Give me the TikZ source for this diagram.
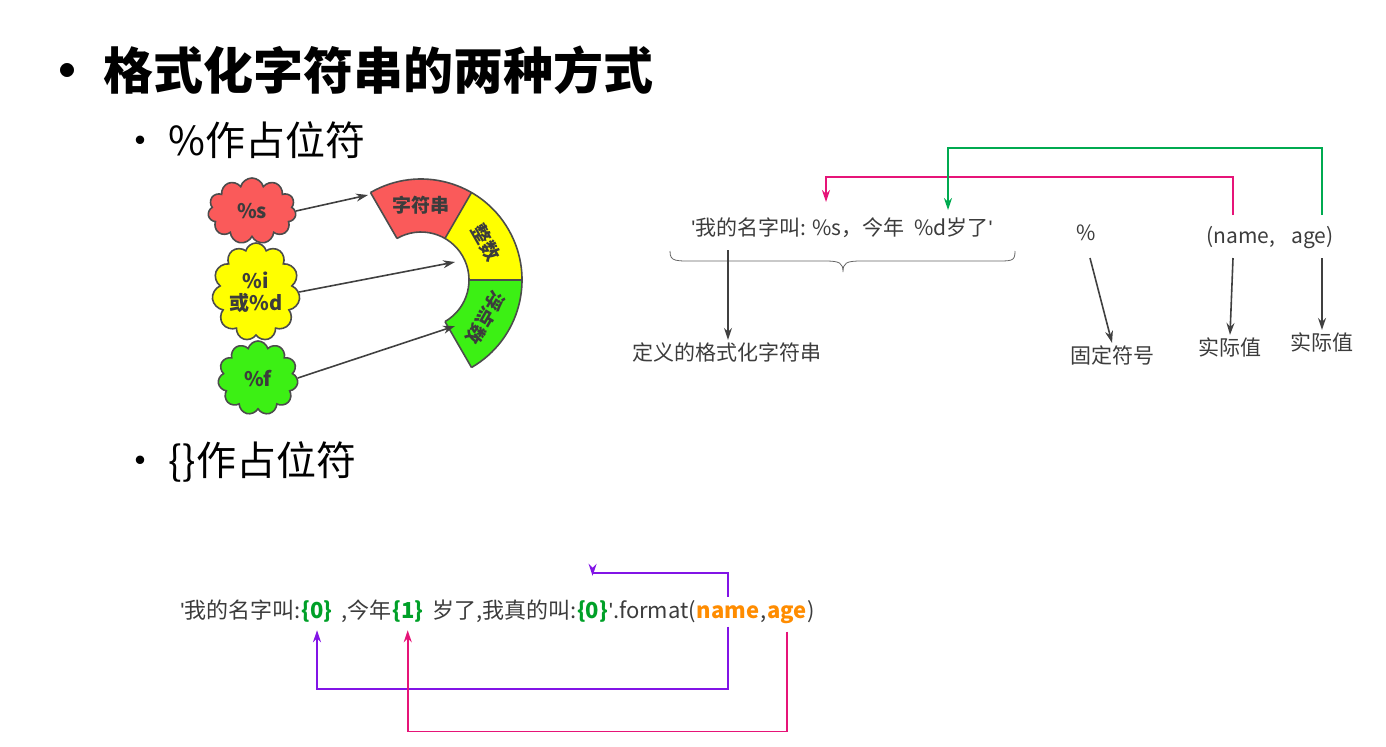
\documentclass[tikz,border=0pt]{standalone}
\usepackage{fontspec}
\setmainfont{Noto Sans CJK SC}
\newfontfamily\lat{Liberation Sans}
\usetikzlibrary{positioning,shapes.symbols,arrows.meta,calc}
\definecolor{cred}{RGB}{250,90,90}
\definecolor{cyel}{RGB}{255,255,0}
\definecolor{cgrn}{RGB}{60,240,20}
\definecolor{cpink}{RGB}{230,20,120}
\definecolor{cgreen}{RGB}{0,170,80}
\definecolor{cpur}{RGB}{130,20,230}
\definecolor{cnum}{RGB}{0,160,40}
\definecolor{corg}{RGB}{255,140,0}
\definecolor{txt}{RGB}{60,60,60}
\newcommand\q{{\lat\char39}}
\tikzset{
  blob/.style={cloud,cloud puffs=11,draw=black!70,thick,minimum width=#1,font=\fontsize{10}{11}\selectfont\bfseries,text=txt,align=center,inner sep=0pt},
  seg/.style={draw=black!70,thick},
  ptr/.style={-{Stealth[length=6pt,width=4pt]},draw=black!75,thick},
  lnk/.style={-{Stealth[length=6pt,width=4pt]},thick},
  lbl/.style={font=\fontsize{10.5}{12}\selectfont,text=txt,inner sep=1pt},
  part/.style={font=\fontsize{11}{12}\selectfont,text=txt,inner sep=0pt,anchor=base west},
  hot/.style={part,font=\fontsize{11}{12}\selectfont\bfseries}
}
\begin{document}
\begin{tikzpicture}[x=0.5pt,y=-0.5pt]
  \useasboundingbox (0,0) rectangle (1386,746);
  %HEADINGS
  \node[anchor=west,font=\fontsize{25}{28}\selectfont\bfseries] (title) at (35,70) {• 格式化字符串的两种方式};
  \node[anchor=west,font=\fontsize{20}{22}\selectfont] (sub1) at (113,140) {• \%作占位符};
  \node[anchor=west,font=\fontsize{20}{22}\selectfont] (sub2) at (113,462) {• \{\}作占位符};

  %ARC
  \def\ri{48}\def\ro{101}
  \begin{scope}[shift={(421,280)},yscale=-1]
  \fill[cred] (120:\ro) arc[start angle=120,end angle=60,radius=\ro] -- (60:\ri) arc[start angle=60,end angle=120,radius=\ri] -- cycle;
  \fill[cyel] (60:\ro) arc[start angle=60,end angle=0,radius=\ro] -- (0:\ri) arc[start angle=0,end angle=60,radius=\ri] -- cycle;
  \fill[cgrn] (0:\ro) arc[start angle=0,end angle=-60,radius=\ro] -- (-60:\ri) arc[start angle=-60,end angle=0,radius=\ri] -- cycle;
  \foreach \a in {120,60,0,-60} \draw[seg] (\a:\ri) -- (\a:\ro);
  \draw[seg] (120:\ro) arc[start angle=120,end angle=-60,radius=\ro];
  \draw[seg] (120:\ri) arc[start angle=120,end angle=-60,radius=\ri];
  \node[font=\fontsize{9.5}{11}\selectfont\bfseries,text=txt] (str) at (90:75) {字符串};
  \node[font=\fontsize{9.5}{11}\selectfont\bfseries,text=txt,rotate=-60] (int) at (30:75) {整数};
  \node[font=\fontsize{9.5}{11}\selectfont\bfseries,text=txt,rotate=-120] (flt) at (-30:75) {浮点数};
  \end{scope}

  %CLOUDS
  \node[blob=44pt,fill=cred,minimum height=33pt] (cs) at (252,211) {\%s};
  \node[blob=40pt,fill=cyel,minimum height=49pt] (cd) at (256,292) {\%i\\或\%d};
  \node[blob=40pt,fill=cgrn,minimum height=37pt] (cf) at (258,378) {\%f};
  \coordinate (ts) at (368,195);
  \coordinate (td) at (455,262);
  \coordinate (tf) at (455,326);
  \draw[ptr] (cs.east) -- (ts);
  \draw[ptr] (cd.east) -- (td);
  \draw[ptr] (cf.east) -- (tf);

  %PERCENT STYLE
  \node[lbl] (fmt) at (842,228) {\q 我的名字叫: \%s，今年 \ \%d岁了\q};
  \draw[draw=black!60] (670,251) .. controls (670,262) and (675,261) .. (700,261) -- (825,261) .. controls (840,261) and (843,263) .. (843,272) .. controls (843,263) and (846,261) .. (861,261) -- (990,261) .. controls (1012,261) and (1015,262) .. (1015,251);
  \node[lbl] (def) at (727,352) {定义的格式化字符串};
  \coordinate (fmtb) at (728,250);
  \draw[ptr] (fmtb) -- (def.north -| fmtb);
  \node[lbl] (pct) at (1086,233) {\%};
  \node[lbl] (fix) at (1112,355) {固定符号};
  \draw[ptr] (1090,258) -- (fix.north);
  \node[lbl] (tup) at (1270,238) {(name,\hspace{8pt}age)};
  \node[lbl] (v1) at (1230,347) {实际值};
  \node[lbl] (v2) at (1322,342) {实际值};
  \draw[ptr] (1233,258) -- (v1.north);
  \draw[ptr] (1322,258) -- (v2.north);
  \draw[lnk,cpink] (1233,215) -- (1233,177) -- (826,177) -- (826,202);
  \draw[lnk,cgreen] (1322,215) -- (1322,148) -- (948,148) -- (948,210);

  %BRACE STYLE
  \node[part] (p1) at (180,618) {\q 我的名字叫:\hspace{4pt}};
  \node[hot,text=cnum] (n0) at (p1.base east) {\{0\}};
  \node[part] (p2) at (n0.base east) {\hspace{4pt},今年\hspace{4pt}};
  \node[hot,text=cnum] (n1) at (p2.base east) {\{1\}};
  \node[part] (p3) at (n1.base east) {\hspace{4pt}岁了,我真的叫:\hspace{8pt}};
  \node[hot,text=cnum] (n2) at (p3.base east) {\{0\}};
  \node[part] (p4) at (n2.base east) {\q.format(};
  \node[hot,text=corg] (nm) at (p4.base east) {name};
  \node[part] (p5) at (nm.base east) {,\hspace{14pt}};
  \node[hot,text=corg] (ag) at (p5.base east) {age};
  \node[part] (p6) at (ag.base east) {)};
  \draw[lnk,cpur] (nm.north) ++(0,-8) -- ++(0,-24) -| ([yshift=12pt]n2.north);
  \draw[lnk,cpur] ([yshift=-4pt]nm.south) -- ++(0,62) -| ([yshift=-4pt]n0.south);
  \draw[lnk,cpink] ([yshift=-4pt]ag.south) -- ++(0,100) -| ([yshift=-4pt]n1.south);
\end{tikzpicture}
\end{document}
